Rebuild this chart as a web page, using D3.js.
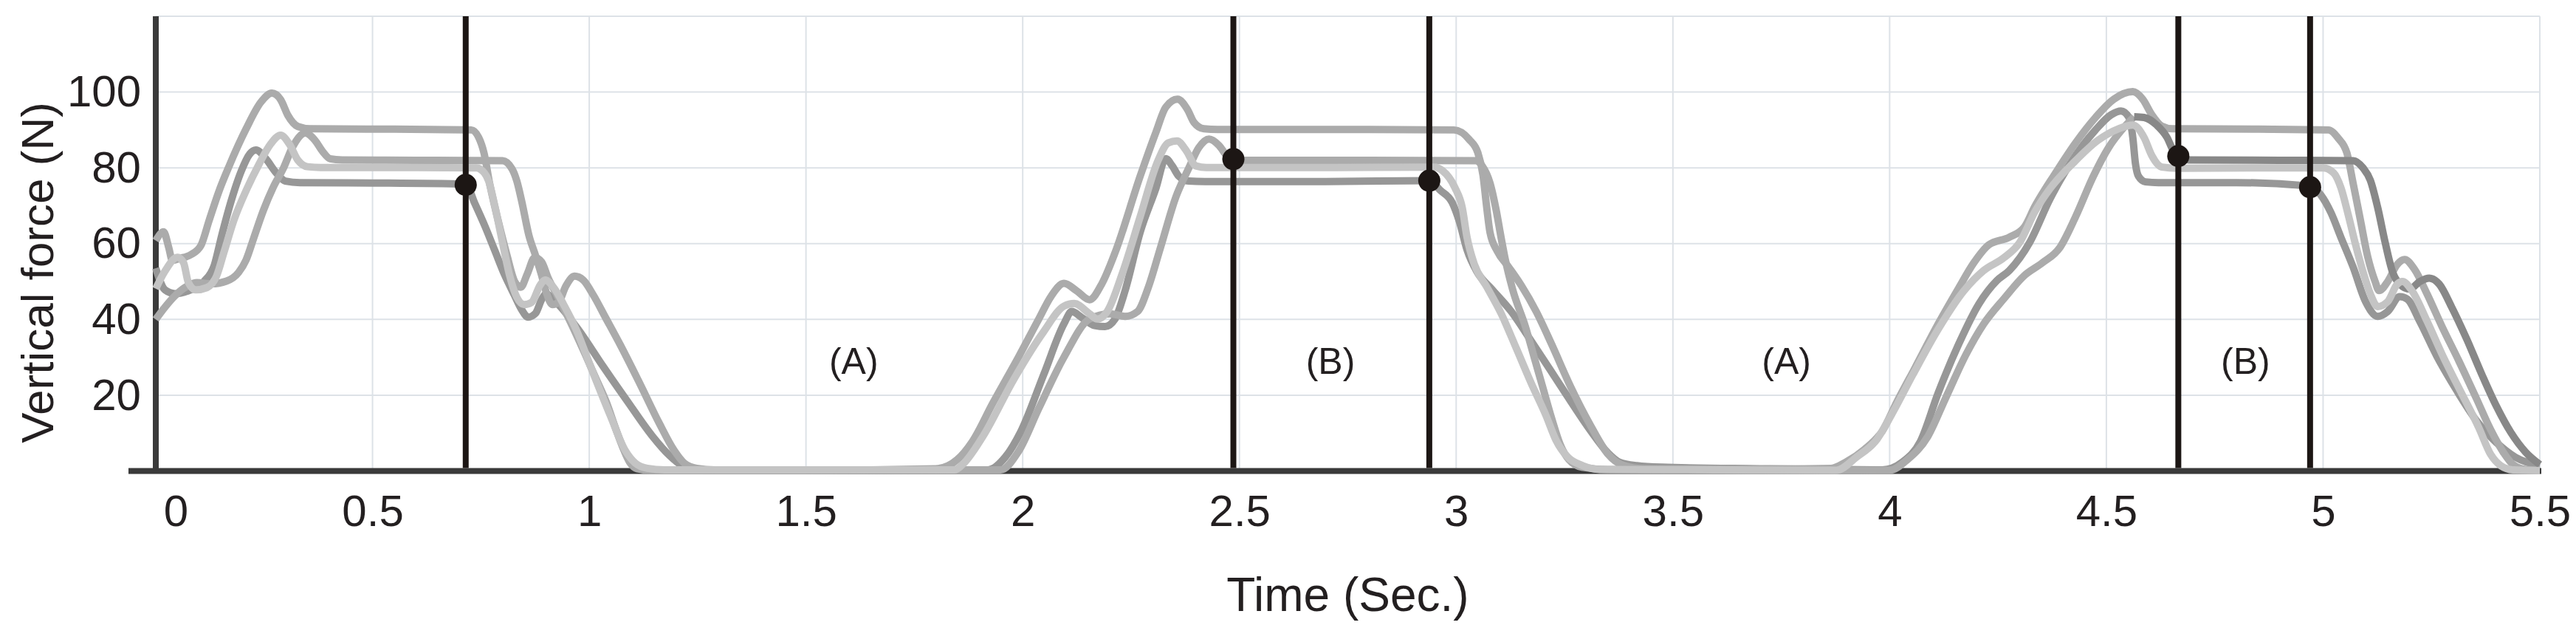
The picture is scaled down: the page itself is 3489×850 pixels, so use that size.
<!DOCTYPE html>
<html>
<head>
<meta charset="utf-8">
<script src="https://cdn.jsdelivr.net/npm/d3@7"></script>
<style>
  html, body { margin: 0; padding: 0; background: #fff; }
  svg { display: block; }
  text { font-family: "Liberation Sans", Arial, sans-serif; fill: #231f20; }
</style>
</head>
<body>
<div id="chart"></div>
<script>
// ---- data: [time (s), vertical force (N)] ----
var darkTrace = [
  [0,53.5],[0.021,47.8],[0.044,46.8],[0.078,47.7],[0.112,50.1],[0.135,54.3],[0.152,62.1],[0.174,71.3],[0.197,79.1],[0.217,83.7],[0.231,84.7],[0.254,82.4],[0.277,78.8],[0.299,76.5],[0.333,76.1],
  [0.5,76.0],[0.715,75.7],
  [0.736,70.6],[0.759,64.7],[0.782,58.2],[0.805,51.7],[0.827,46.5],[0.844,42.6],[0.859,40.6],[0.876,41.6],[0.89,45.2],[0.901,46.8],[0.915,45.5],[0.93,43.8],[0.975,37.3],[1.032,27.6],[1.088,18.4],[1.145,9.3],[1.185,4.1],[1.213,1.5],[1.242,0.5],[1.29,0.2],
  [1.6,0.2],[1.92,0.3],
  [1.96,3.7],[1.996,10.5],[2.048,25.3],[2.095,38.8],[2.113,42.1],[2.136,40.5],[2.166,38.4],[2.19,38.1],[2.213,40.1],[2.236,47.5],[2.271,63],[2.307,74.5],[2.33,82.4],[2.345,80.5],[2.36,77.8],[2.383,76.5],[2.42,76.4],
  [2.7,76.4],[2.938,76.6],
  [2.963,74.1],[2.991,70.8],[3.008,65.6],[3.025,58.4],[3.048,52.6],[3.082,48],[3.127,42.1],[3.173,34.3],[3.218,26.5],[3.263,18.6],[3.309,10.8],[3.349,4.9],[3.377,2.3],[3.417,1.4],[3.474,1.0],
  [3.7,0.6],[3.983,0.3],
  [4.03,2.4],[4.071,7.8],[4.112,20.6],[4.159,33.4],[4.206,44.1],[4.247,50.2],[4.276,52.9],[4.323,60.3],[4.37,71.8],[4.417,81.2],[4.475,90],[4.511,94],[4.534,95],[4.552,93.3],[4.561,88],[4.567,81.2],[4.574,77.8],[4.59,76.3],[4.62,76.1],
  [4.8,76.1],[4.968,75.2],
  [4.995,72.8],[5.018,68.2],[5.041,61.7],[5.069,53.9],[5.098,44.7],[5.126,40.8],[5.149,42.1],[5.177,46],[5.194,45.4],[5.223,39.5],[5.262,30.4],[5.308,21.3],[5.353,13.4],[5.399,7.6],[5.444,3.6],[5.5,1.4]
];

var highTrace = [
  [0,60.8],[0.018,63.1],[0.030,58.9],[0.038,55.6],[0.055,56.1],[0.081,57.1],[0.104,59.5],[0.123,66.1],[0.146,73.9],[0.169,80.4],[0.208,90.2],[0.243,97.4],[0.268,99.7],[0.288,98.0],[0.305,93.8],[0.328,90.9],[0.356,90.3],
  [0.55,90.2],[0.728,90],
  [0.745,88],[0.757,84],[0.77,76],[0.79,66],[0.81,57],[0.828,50],[0.842,48.5],[0.857,52],[0.874,56.3],[0.89,55.2],[0.905,51],[0.93,45.5],[0.96,38.5],[0.99,31],[1.015,24.5],[1.04,18],[1.06,11.5],[1.08,5.5],[1.095,2],[1.11,0.6],[1.14,0.2],
  [1.5,0.2],[1.8,0.6],
  [1.849,3.0],[1.884,7.8],[1.931,17.9],[1.99,30],[2.037,40.1],[2.066,46.2],[2.095,49.5],[2.125,47.5],[2.154,45.2],[2.183,49.5],[2.213,57.6],[2.271,77.8],[2.307,89.3],[2.33,96.0],[2.357,98.1],[2.38,95.4],[2.395,92.0],[2.418,90.3],[2.45,90.1],
  [2.8,90.1],[2.995,90],
  [3.03,87.5],[3.05,84],[3.062,78],[3.07,70],[3.078,63],[3.095,58],[3.12,54],[3.15,49],[3.185,42],[3.22,33.5],[3.265,22],[3.31,12],[3.35,4.5],[3.385,1.5],[3.43,0.6],
  [3.7,0.5],[3.865,0.7],
  [3.9,2.4],[3.942,5.7],[3.983,10.5],[4.018,18.5],[4.059,27.3],[4.112,38.8],[4.159,48.2],[4.194,54.9],[4.229,59.7],[4.276,61.7],[4.311,64.4],[4.335,69.8],[4.382,78.5],[4.429,86.6],[4.475,93.3],[4.517,98.1],[4.561,100.1],[4.584,98.1],[4.605,94],[4.628,91],[4.652,90.3],
  [4.85,90.2],[5.012,90],
  [5.035,87.8],[5.055,83.9],[5.069,76.1],[5.086,66.3],[5.103,56.5],[5.12,50],[5.129,47.6],[5.149,50],[5.171,54.5],[5.188,55.8],[5.211,53.2],[5.24,46.7],[5.274,38.2],[5.313,29.1],[5.353,19.3],[5.387,10.8],[5.416,4.9],[5.438,1.7],[5.467,0.4],[5.5,0.2]
];

var midTrace = [
  [0,40],[0.021,43.2],[0.044,46.2],[0.067,48.4],[0.095,49.7],[0.129,49.4],[0.163,50.1],[0.191,52.4],[0.208,55.6],[0.226,61.5],[0.248,68.7],[0.271,74.9],[0.294,79.8],[0.316,85.6],[0.345,89.2],[0.367,87.3],[0.385,84.3],[0.402,82.4],[0.43,82.1],
  [0.6,82],[0.80,81.9],
  [0.822,79.7],[0.833,76.5],[0.844,71.3],[0.861,62.1],[0.876,56.9],[0.89,51.7],[0.901,47.1],[0.915,43.9],[0.929,44.5],[0.946,48.8],[0.966,51.4],[0.986,50.4],[1.009,46.5],[1.037,40.6],[1.071,33.4],[1.117,23],[1.162,12.5],[1.196,5.4],[1.219,2.1],[1.248,0.7],[1.29,0.3],
  [1.6,0.3],[1.949,0.3],
  [1.99,5.1],[2.037,16.5],[2.095,30],[2.154,40.1],[2.201,41.5],[2.236,40.8],[2.265,42.1],[2.289,48.2],[2.318,59],[2.354,72.5],[2.383,79.9],[2.406,85.3],[2.43,87.6],[2.453,85.9],[2.471,83.2],[2.49,82.1],[2.52,82],
  [2.8,82],[3.045,81.9],
  [3.06,80.5],[3.078,76],[3.092,69],[3.103,62],[3.113,56],[3.13,48],[3.16,38],[3.18,30],[3.2,22],[3.22,14],[3.24,7],[3.26,3],[3.29,1],[3.35,0.4],
  [3.7,0.3],[4.0,0.2],
  [4.041,3.0],[4.088,9.1],[4.129,19.2],[4.176,30.7],[4.217,38.8],[4.264,45.5],[4.311,51.6],[4.352,54.9],[4.393,59],[4.429,67.1],[4.47,77.8],[4.505,85.3],[4.54,90.6],[4.564,93.5]
];

var midTraceLate = [
  [4.564,93.5],[4.587,93.3],[4.616,91.3],[4.64,88],[4.654,84.6],[4.666,82.8],[4.69,82.1],
  [4.9,82],[5.069,81.9],
  [5.092,80],[5.109,76.7],[5.126,69.5],[5.143,60.4],[5.16,52.6],[5.177,49.3],[5.2,48],[5.223,50],[5.245,50.9],[5.268,49.3],[5.296,43.4],[5.331,34.9],[5.365,25.8],[5.399,17.3],[5.433,10.2],[5.467,5],[5.5,1.7]
];

var lightTrace = [
  [0,48.1],[0.021,52.7],[0.050,56.4],[0.064,55.0],[0.075,49.8],[0.092,47.8],[0.118,48.4],[0.140,51.4],[0.157,57.6],[0.180,66.1],[0.208,73.9],[0.237,80.7],[0.265,86.3],[0.288,88.6],[0.308,86.3],[0.328,82],[0.35,80.3],[0.38,80.1],
  [0.6,80.1],[0.74,80],
  [0.748,79.7],[0.768,76.5],[0.782,70],[0.799,60.8],[0.816,51.7],[0.833,45.8],[0.85,43.9],[0.867,44.5],[0.887,49.1],[0.898,50.4],[0.918,48.4],[0.941,43.9],[0.97,37.3],[1.003,27.6],[1.049,14.5],[1.083,5.4],[1.106,2.1],[1.134,0.7],[1.174,0.3],
  [1.5,0.3],[1.843,0.3],
  [1.861,1.7],[1.908,9.1],[1.978,23.9],[2.048,36.7],[2.095,43.5],[2.119,44.2],[2.154,41.5],[2.172,40.1],[2.195,42.1],[2.23,52.2],[2.271,67.1],[2.312,81.9],[2.336,86.6],[2.356,87.1],[2.377,84.6],[2.4,80.5],[2.424,80.1],
  [2.7,80.1],[2.95,80.2],
  [2.968,79.3],[2.997,74.8],[3.014,69.5],[3.025,61.7],[3.042,54.5],[3.07,48.7],[3.104,41.5],[3.139,32.3],[3.173,23.2],[3.207,14.7],[3.23,8.2],[3.258,3.6],[3.292,1.4],[3.332,0.4],
  [3.6,0.3],[3.877,0.2],
  [3.924,3.7],[3.971,8.4],[4.006,15.2],[4.053,25.3],[4.112,37.4],[4.171,47.5],[4.217,52.9],[4.264,56.3],[4.3,60.3],[4.335,68.4],[4.37,74.5],[4.423,81.2],[4.481,87.3],[4.528,90.3],[4.561,91.3],[4.587,88],[4.605,83.2],[4.628,80.2],[4.663,79.9],
  [4.85,80],[5.0,80],
  [5.024,78.7],[5.041,74.8],[5.058,67.6],[5.075,59.7],[5.092,52.6],[5.109,46.7],[5.126,43.4],[5.149,44.7],[5.171,49.3],[5.183,50],[5.206,47.4],[5.24,39.5],[5.279,29.7],[5.319,20.6],[5.359,11.5],[5.387,4.3],[5.41,1.4],[5.438,0.3],[5.5,0.1]
];

var traces = [darkTrace, highTrace, midTrace, midTraceLate, lightTrace];
var traceColors = ["#979797", "#ababab", "#ababab", "#888888", "#c4c4c4"];

var markerTimes = [0.715, 2.486, 2.938, 4.666, 4.970];
var markerForces = [75.5, 82.3, 76.6, 83.1, 74.9];

var phaseLabels = ["(A)", "(B)", "(A)", "(B)"];
var phaseTimes = [1.61, 2.71, 3.762, 4.821];
var phaseForce = 29;

var xTicks = [0, 0.5, 1, 1.5, 2, 2.5, 3, 3.5, 4, 4.5, 5, 5.5];
var yTicks = [20, 40, 60, 80, 100];
var yGrid = [20, 40, 60, 80, 100, 120];

// ---- layout ----
var width = 3489, height = 850;

var svg = d3.select("#chart").append("svg")
    .attr("width", width)
    .attr("height", height);

svg.append("rect").attr("width", width).attr("height", height).attr("fill", "#fff");

var x = d3.scaleLinear().domain([0, 5.5]).range([211, 3440]);
var y = d3.scaleLinear().domain([0, 120]).range([637.5, 22]);

// grid
svg.append("g").selectAll("line")
    .data(yGrid)
    .enter().append("line")
    .attr("x1", x(0)).attr("x2", x(5.5))
    .attr("y1", function(d) { return y(d); })
    .attr("y2", function(d) { return y(d); })
    .attr("stroke", "#dde2e7")
    .attr("stroke-width", 2);

svg.append("g").selectAll("line")
    .data(xTicks.slice(1))
    .enter().append("line")
    .attr("x1", function(d) { return x(d); })
    .attr("x2", function(d) { return x(d); })
    .attr("y1", y(0)).attr("y2", y(120))
    .attr("stroke", "#dde2e7")
    .attr("stroke-width", 2);

// axis lines
svg.append("line")
    .attr("x1", x(0)).attr("x2", x(0))
    .attr("y1", y(120)).attr("y2", y(0))
    .attr("stroke", "#3a3a3a").attr("stroke-width", 8);
svg.append("line")
    .attr("x1", 174).attr("x2", 3442)
    .attr("y1", y(0)).attr("y2", y(0))
    .attr("stroke", "#3a3a3a").attr("stroke-width", 8);

// tick labels
var yAxis = svg.append("g")
    .attr("transform", "translate(" + x(0) + ",0)")
    .call(d3.axisLeft(y).tickValues(yTicks).tickSize(0).tickPadding(20));
yAxis.select(".domain").remove();
yAxis.selectAll("text")
    .style("font-size", "60px")
    .style("font-family", '"Liberation Sans", Arial, sans-serif')
    .attr("fill", "#231f20");

var xAxis = svg.append("g")
    .attr("transform", "translate(0," + y(0) + ")")
    .call(d3.axisBottom(x).tickValues(xTicks).tickSize(0).tickPadding(32)
        .tickFormat(function(d) { return String(d); }));
xAxis.select(".domain").remove();
xAxis.selectAll("text")
    .style("font-size", "60px")
    .style("font-family", '"Liberation Sans", Arial, sans-serif')
    .attr("fill", "#231f20")
    .attr("dx", function(d) { return d === 0 ? 27 : 0; });

// force traces
var line = d3.line()
    .x(function(d) { return x(d[0]); })
    .y(function(d) { return y(d[1]); })
    .curve(d3.curveMonotoneX);

svg.append("g").selectAll("path")
    .data(traces)
    .enter().append("path")
    .attr("d", line)
    .attr("fill", "none")
    .attr("stroke", function(d, i) { return traceColors[i]; })
    .attr("stroke-width", 10)
    .attr("stroke-linejoin", "round")
    .attr("stroke-linecap", "butt");

// event markers
svg.append("g").selectAll("line")
    .data(markerTimes)
    .enter().append("line")
    .attr("x1", function(d) { return x(d); })
    .attr("x2", function(d) { return x(d); })
    .attr("y1", y(120)).attr("y2", y(0) - 4)
    .attr("stroke", "#1c1614")
    .attr("stroke-width", 8);

svg.append("g").selectAll("circle")
    .data(markerTimes)
    .enter().append("circle")
    .attr("cx", function(d) { return x(d); })
    .attr("cy", function(d, i) { return y(markerForces[i]); })
    .attr("r", 15)
    .attr("fill", "#1c1614");

// phase labels
svg.append("g").selectAll("text")
    .data(phaseLabels)
    .enter().append("text")
    .attr("x", function(d, i) { return x(phaseTimes[i]); })
    .attr("y", y(phaseForce))
    .attr("dy", "0.35em")
    .attr("text-anchor", "middle")
    .style("font-size", "50px")
    .text(function(d) { return d; });

// axis titles
svg.append("text")
    .attr("x", (x(0) + x(5.5)) / 2)
    .attr("y", 827)
    .attr("text-anchor", "middle")
    .style("font-size", "64px")
    .text("Time (Sec.)");

svg.append("text")
    .attr("transform", "translate(72," + 369 + ") rotate(-90)")
    .attr("text-anchor", "middle")
    .style("font-size", "62px")
    .text("Vertical force (N)");
</script>
</body>
</html>
